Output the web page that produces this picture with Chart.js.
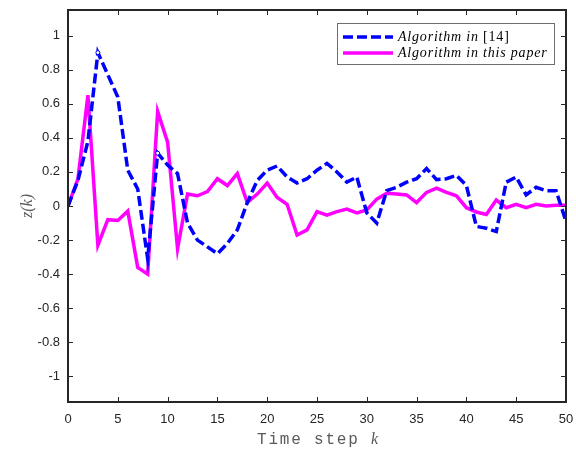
<!DOCTYPE html>
<html>
<head>
<meta charset="utf-8">
<script src="https://cdn.jsdelivr.net/npm/chart.js@4.4.1/dist/chart.umd.min.js"></script>
<style>
html,body{margin:0;padding:0;background:#fff;}
#wrap{width:576px;height:449px;position:relative;}
</style>
</head>
<body>
<div id="wrap"><canvas id="c" width="576" height="449"></canvas></div>
<script>
const steps = Array.from({length: 51}, (_, i) => i);
const algo14 = [0, 0.15, 0.38, 0.90, 0.77, 0.64, 0.21, 0.10, -0.31, 0.31,
  0.24, 0.19, -0.10, -0.20, -0.24, -0.28, -0.22, -0.14, 0.02, 0.15,
  0.21, 0.235, 0.17, 0.135, 0.16, 0.21, 0.25, 0.20, 0.14, 0.17,
  -0.04, -0.10, 0.09, 0.11, 0.14, 0.16, 0.22, 0.155, 0.16, 0.18,
  0.12, -0.12, -0.13, -0.15, 0.14, 0.17, 0.065, 0.11, 0.09, 0.09, -0.09];
const algoThis = [0, 0.16, 0.65, -0.23, -0.08, -0.085, -0.03, -0.36, -0.40, 0.555,
  0.375, -0.25, 0.07, 0.06, 0.085, 0.16, 0.12, 0.19, 0.02, 0.07,
  0.135, 0.05, 0.01, -0.17, -0.14, -0.033, -0.053, -0.033, -0.018, -0.04,
  -0.023, 0.04, 0.075, 0.07, 0.065, 0.02, 0.08, 0.105, 0.08, 0.06,
  -0.01, -0.035, -0.05, 0.035, -0.01, 0.01, -0.01, 0.01, 0, 0.005, 0.005];
const xTicks = [0, 5, 10, 15, 20, 25, 30, 35, 40, 45, 50];
const yTicks = [-1, -0.8, -0.6, -0.4, -0.2, 0, 0.2, 0.4, 0.6, 0.8, 1];
const seriesNames = ['Algorithm in [14]', 'Algorithm in this paper'];

const BLUE = '#0000ff', MAG = '#ff00ff', AX = '#262626';

const boxPlugin = {
  id: 'boxPlugin',
  afterDraw(chart) {
    const ctx = chart.ctx, a = chart.chartArea;
    const xs = chart.scales.x, ys = chart.scales.y;
    ctx.save();
    ctx.strokeStyle = AX; ctx.lineWidth = 1;
    ctx.beginPath();
    xTicks.forEach(v => {
      const px = Math.round(xs.getPixelForValue(v)) + 0.5;
      ctx.moveTo(px, a.bottom); ctx.lineTo(px, a.bottom - 5);
      ctx.moveTo(px, a.top); ctx.lineTo(px, a.top + 5);
    });
    yTicks.forEach(v => {
      const py = Math.round(ys.getPixelForValue(v)) + 0.5;
      ctx.moveTo(a.left, py); ctx.lineTo(a.left + 5, py);
      ctx.moveTo(a.right, py); ctx.lineTo(a.right - 5, py);
    });
    ctx.stroke();
    ctx.lineWidth = 2;
    ctx.strokeRect(a.left, a.top, a.right - a.left, a.bottom - a.top);

    // legend
    const lx = 337, ly = 23, lw = 217, lh = 41;
    ctx.fillStyle = '#fff';
    ctx.fillRect(lx, ly, lw, lh);
    ctx.strokeStyle = '#6e6e6e'; ctx.lineWidth = 1;
    ctx.strokeRect(lx + 0.5, ly + 0.5, lw, lh);
    const rows = [ly + 14, ly + 30];
    ctx.lineWidth = 3.5;
    ctx.strokeStyle = BLUE; ctx.setLineDash([10, 4]);
    ctx.beginPath(); ctx.moveTo(343, rows[0]); ctx.lineTo(393, rows[0]); ctx.stroke();
    ctx.setLineDash([]);
    ctx.strokeStyle = MAG;
    ctx.beginPath(); ctx.moveTo(343, rows[1]); ctx.lineTo(393, rows[1]); ctx.stroke();
    ctx.fillStyle = '#000';
    ctx.textBaseline = 'middle'; ctx.textAlign = 'left';
    ctx.letterSpacing = '0.8px';
    ctx.font = 'italic 14px "Liberation Serif"';
    ctx.fillText('Algorithm in ', 398, rows[0]);
    let w = ctx.measureText('Algorithm in ').width;
    ctx.font = '14px "Liberation Serif"';
    ctx.fillText('[14]', 398 + w, rows[0]);
    ctx.font = 'italic 14px "Liberation Serif"';
    ctx.fillText(seriesNames[1], 398, rows[1]);

    // x title
    ctx.fillStyle = '#5a5a5a';
    ctx.letterSpacing = '1.8px';
    ctx.font = '16px "Liberation Mono"';
    const t1 = 'Time step ';
    ctx.fillText(t1, 257, 440);
    const w1 = ctx.measureText(t1).width;
    ctx.letterSpacing = '0px';
    ctx.font = 'italic 16px "Liberation Serif"';
    ctx.fillText('k', 257 + w1, 440);

    // y title
    ctx.translate(28, (a.top + a.bottom) / 2);
    ctx.rotate(-Math.PI / 2);
    ctx.textAlign = 'center';
    ctx.font = 'italic 16px "Liberation Serif"';
    ctx.fillText('z(k)', 0, 0);
    ctx.restore();
  }
};

new Chart(document.getElementById('c'), {
  type: 'line',
  data: {
    datasets: [
      {
        label: seriesNames[0],
        data: steps.map((k, i) => ({x: k, y: algo14[i]})),
        borderColor: BLUE, borderWidth: 3.5, borderDash: [10, 4],
        pointRadius: c => (c.dataIndex === 3 || c.dataIndex === 9) ? 2 : 0,
        pointBorderWidth: 1, pointBorderColor: BLUE,
        pointBackgroundColor: '#fff', tension: 0, fill: false
      },
      {
        label: seriesNames[1],
        data: steps.map((k, i) => ({x: k, y: algoThis[i]})),
        borderColor: MAG, borderWidth: 3.5, pointRadius: 0,
        tension: 0, fill: false
      }
    ]
  },
  options: {
    responsive: false, animation: false, devicePixelRatio: 1,
    layout: {padding: {top: 10, right: 10, left: 0, bottom: 0}},
    plugins: {legend: {display: false}, tooltip: {enabled: false}},
    scales: {
      x: {
        type: 'linear', min: 0, max: 50,
        afterBuildTicks: s => { s.ticks = xTicks.map(v => ({value: v})); },
        afterFit: s => { s.height = 47; s.paddingLeft = 0; s.paddingRight = 0; },
        grid: {display: false, drawTicks: false},
        border: {display: false},
        ticks: {color: AX, font: {family: '"Liberation Sans"', size: 13}, padding: 10, maxRotation: 0}
      },
      y: {
        type: 'linear', min: -1.15, max: 1.15,
        afterBuildTicks: s => { s.ticks = yTicks.map(v => ({value: v})); },
        afterFit: s => { s.width = 68; s.paddingTop = 0; s.paddingBottom = 0; },
        grid: {display: false, drawTicks: false},
        border: {display: false},
        ticks: {color: AX, font: {family: '"Liberation Sans"', size: 13}, padding: 8,
          callback: v => String(Math.round(v * 10) / 10)}
      }
    }
  },
  plugins: [boxPlugin]
});
</script>
</body>
</html>
